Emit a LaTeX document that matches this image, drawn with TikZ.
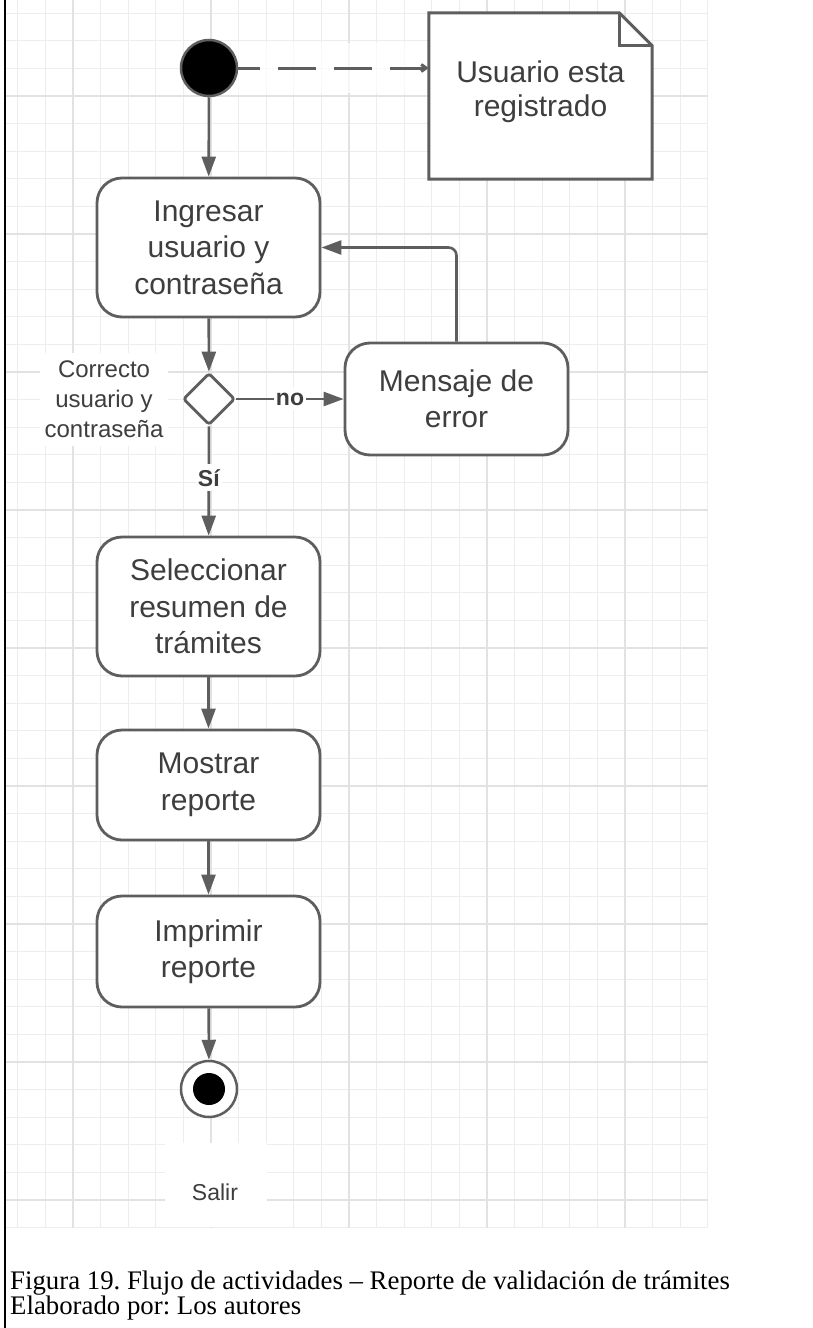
\documentclass[tikz,border=0pt]{standalone}
\usepackage{fontspec}
\setmainfont{Liberation Sans}
\newfontfamily\capfont{Liberation Serif}
\usetikzlibrary{arrows.meta,shapes.geometric}
\frenchspacing

\definecolor{lineg}{HTML}{5E5E5E}
\definecolor{textg}{HTML}{3E3E3E}
\definecolor{gridminor}{HTML}{EDEDED}
\definecolor{gridmajor}{HTML}{E2E2E2}

\tikzset{
  act/.style={draw=lineg, line width=2.8pt, rounded corners=25pt, fill=white,
    text=textg, font=\fontsize{30}{36.5}\selectfont, align=center,
    minimum width=223pt, inner sep=0pt},
  conn/.style={draw=lineg, line width=2.6pt, -{Triangle[length=20pt,width=14pt]}},
  guard/.style={fill=white, text=textg, font=\bfseries\fontsize{23}{27}\selectfont,
    inner xsep=2pt, inner ysep=5pt},
  gridline/.style={gridminor, line width=1.3pt},
  gridmain/.style={gridmajor, line width=1.5pt},
  captext/.style={anchor=base west, inner sep=0pt, font=\capfont\fontsize{26.8}{25}\selectfont},
}

\begin{document}
\begin{tikzpicture}[x=1pt, y=-1pt]
\useasboundingbox (0,0) rectangle (812,1328);
\fill[white] (0,0) rectangle (812,1328);

% background grid
\foreach \k in {-7,...,18}
  \draw[gridline] ({211+27.6*\k},0) -- ({211+27.6*\k},1227.6);
\foreach \k in {-3,...,41}
  \draw[gridline] (6,{96+27.6*\k}) -- (707.6,{96+27.6*\k});
\foreach \k in {-1,...,3}
  \draw[gridmain] ({211+138*\k},0) -- ({211+138*\k},1227.6);
\foreach \k in {0,...,8}
  \draw[gridmain] (6,{96+138*\k}) -- (707.6,{96+138*\k});

% page frame on the left
\draw[black, line width=2pt] (4.5,0) -- (4.5,1328);

% activities
\node[act, minimum height=139pt] (login) at (208.5,247.5) {Ingresar\\usuario y\\contraseña};
\node[act, minimum height=112pt] (err) at (456.5,399) {Mensaje de\\error};
\node[act, minimum height=139pt] (sel) at (208.5,606.5) {Seleccionar\\resumen de\\trámites};
\node[act, minimum height=110pt] (show) at (208.5,785) {Mostrar\\reporte};
\node[act, minimum height=111pt] (print) at (208.5,951.5) {Imprimir\\reporte};

% initial and final states
\node[circle, fill=black, draw=lineg, line width=2.5pt, minimum size=56pt, inner sep=0pt] (start) at (209,68) {};
\node[circle, fill=white, draw=lineg, line width=2.5pt, minimum size=56pt, inner sep=0pt] (end) at (209,1089) {};
\node[circle, fill=black, minimum size=32pt, inner sep=0pt] (endin) at (end) {};

% decision
\node[diamond, draw=lineg, line width=2.8pt, fill=white, rounded corners=3pt,
      minimum width=52pt, minimum height=52pt, inner sep=0pt] (dec) at (209,399) {};
\node[anchor=east, fill=white, text=textg, align=center, inner xsep=5pt, inner ysep=8pt,
      font=\fontsize{24}{30}\selectfont] (cond) at ([xshift=-13pt]dec.west) {Correcto\\usuario y\\contraseña};

% note
\node[minimum width=223pt, minimum height=166pt, inner sep=0pt] (note) at (540.5,96) {};
\fill[white, opacity=0.7] (start.east |- 0,43) rectangle (note.west |- 0,93);
\draw[draw=lineg, line width=3pt, fill=white, line join=miter]
  (note.north west) -- ([xshift=-33pt]note.north east) -- ([yshift=-33pt]note.north east)
  -- (note.south east) -- (note.south west) -- cycle;
\draw[draw=lineg, line width=3pt]
  ([xshift=-33pt]note.north east) -- ++(0,33) -- ([yshift=-33pt]note.north east);
\node[text=textg, align=center, font=\fontsize{30}{34}\selectfont] (notetext) at (540.5,92) {Usuario esta\\registrado};
\draw[lineg, line width=3pt, dash pattern=on 38pt off 18pt, dash phase=16pt,
      -{Straight Barb[length=5pt,width=7pt]}] (start.east) -- (note.west |- start.east);

% control flow
\draw[conn] (start) -- (login);
\draw[conn] (login) -- (dec);
\draw[conn] (dec) -- node[guard] {no} (err);
\draw[conn, rounded corners=8pt] (err.north) |- (login.east);
\draw[conn] (dec) -- node[guard, pos=0.47] {Sí} (sel);
\draw[conn] (sel) -- (show);
\draw[conn] (show) -- (print);
\draw[conn] (print) -- (end);

% exit label
\node[fill=white, minimum width=102pt, minimum height=84pt, inner sep=0pt] (exitbg) at (216,1185) {};
\node[text=textg, font=\fontsize{23}{27}\selectfont] (exit) at (215,1192) {Salir};

% caption
\node[captext] (cap1) at (10,1289) {Figura 19. Flujo de actividades – Reporte de validación de trámites};
\node[captext] (cap2) at (10,1314) {Elaborado por: Los autores};
\end{tikzpicture}
\end{document}
